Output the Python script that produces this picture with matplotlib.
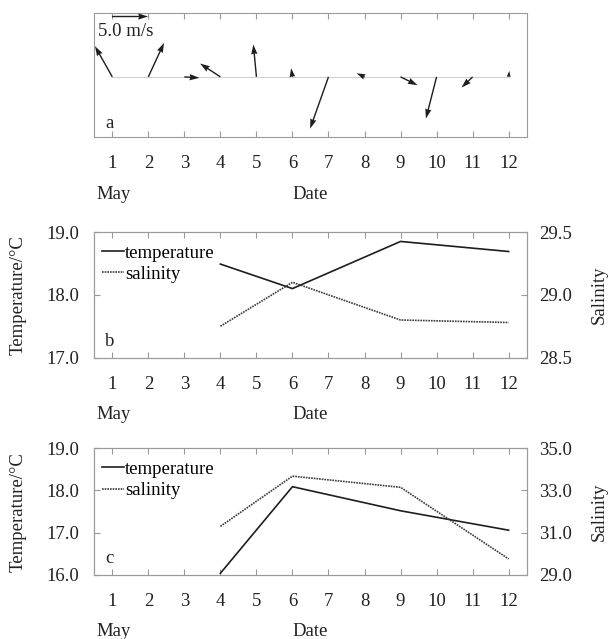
import numpy as np
import matplotlib
matplotlib.use('Agg')
import matplotlib.pyplot as plt
from matplotlib.ticker import FormatStrFormatter

plt.rcParams['font.family'] = ['Liberation Serif', 'DejaVu Serif']
plt.rcParams['font.size'] = 13.5

# wind (m/s), one vector per day in May
windDays = np.arange(1, 13)
windU = [-2.4, 2.18, 2.08, -2.82, -0.42, -0.19, -2.55, -1.1, 2.36, -1.48, -1.53, 0.09]
windV = [4.26, 4.72, -0.14, 1.85, 4.49, 1.2, -7.18, 0.5, -1.16, -5.79, -1.48, 0.83]

# panel b
daysB = [4, 6, 9, 12]
tempB = [18.49, 18.1, 18.85, 18.69]
salB = [28.75, 29.10, 28.80, 28.78]

# panel c
daysC = [4, 6, 9, 12]
tempC = [16.04, 18.09, 17.52, 17.06]
salC = [31.3, 33.68, 33.15, 29.76]

dayTicks = list(range(1, 13))
spineCol = '#9a9a9a'
lineCol = '#1e1e1e'

fig = plt.figure(figsize=(6.09, 6.39), dpi=100)
L, W = 0.1548, 0.710
axA = fig.add_axes([L, 0.7856, W, 0.194])
axB = fig.add_axes([L, 0.4402, W, 0.1967])
axC = fig.add_axes([L, 0.1002, W, 0.1983])

def styleX(ax):
    ax.set_xlim(0.5, 12.5)
    ax.set_xticks(dayTicks)
    ax.tick_params(axis='x', direction='in', top=True, length=4, color=spineCol,
                   pad=13, labelcolor='#222222')
    for s in ax.spines.values():
        s.set_color(spineCol)
    ax.annotate('May', xy=(0, 0), xycoords='axes fraction', xytext=(2, -57),
                textcoords='offset pixels', ha='left', va='center', color='#222222')
    ax.annotate('Date', xy=(0, 0), xycoords='axes fraction', xytext=(198, -57),
                textcoords='offset pixels', ha='left', va='center', color='#222222')

# ---- panel a: wind vectors
styleX(axA)
axA.set_ylim(-0.97, 1.03)
axA.set_yticks([])
axA.plot(windDays, np.zeros(len(windDays)), color='#d0d0d0', lw=0.8, zorder=1)
q = axA.quiver(windDays, np.zeros(len(windDays)), windU, windV, angles='uv',
               scale_units='inches', scale=5 / 0.3604, units='dots', width=1.4,
               headwidth=4.5, headlength=7, headaxislength=6.5, color=lineCol, zorder=3)
axA.quiverkey(q, 0.0826, 0.972, 5.0, '', coordinates='axes', labelpos='N')
axA.text(0.009, 0.85, '5.0 m/s', transform=axA.transAxes, ha='left', va='center',
         color='#222222')
axA.text(0.025, 0.11, 'a', transform=axA.transAxes, ha='left', va='center', color='#222222')

def tsPanel(ax, days, temp, sal, tlim, tticks, slim, sticks, tag):
    styleX(ax)
    ax.set_ylim(*tlim)
    ax.set_yticks(tticks)
    ax.yaxis.set_major_formatter(FormatStrFormatter('%.1f'))
    ax.tick_params(axis='y', direction='in', length=4, color=spineCol, pad=11,
                   labelcolor='#222222')
    ax.set_ylabel('Temperature/°C', color='#222222')
    ax.yaxis.set_label_coords(-0.156, 0.5)
    ax2 = ax.twinx()
    ax2.set_ylim(*slim)
    ax2.set_yticks(sticks)
    ax2.yaxis.set_major_formatter(FormatStrFormatter('%.1f'))
    ax2.tick_params(axis='y', direction='in', length=4, color=spineCol, pad=9,
                    labelcolor='#222222')
    for s in ax2.spines.values():
        s.set_color(spineCol)
    ax2.set_ylabel('Salinity', color='#222222')
    ax2.yaxis.set_label_coords(1.148, 0.5)
    h1, = ax.plot(days, temp, color=lineCol, lw=1.2, label='temperature')
    h2, = ax2.plot(days, sal, color='#3a3a3a', lw=1.2, ls=(0, (1, 0.6)), label='salinity')
    ax2.legend(handles=[h1, h2], loc='upper left', bbox_to_anchor=(-0.012, 1.005),
               frameon=False, handlelength=1.15, handletextpad=0.08,
               labelspacing=0.22, borderaxespad=0.3, fontsize=13.5)
    ax.text(0.025, 0.13, tag, transform=ax.transAxes, ha='left', va='center',
            color='#222222')

tsPanel(axB, daysB, tempB, salB, (17, 19), [17, 18, 19], (28.5, 29.5),
        [28.5, 29.0, 29.5], 'b')
tsPanel(axC, daysC, tempC, salC, (16, 19), [16, 17, 18, 19], (29, 35),
        [29, 31, 33, 35], 'c')

fig.savefig('out.png', dpi=100)
